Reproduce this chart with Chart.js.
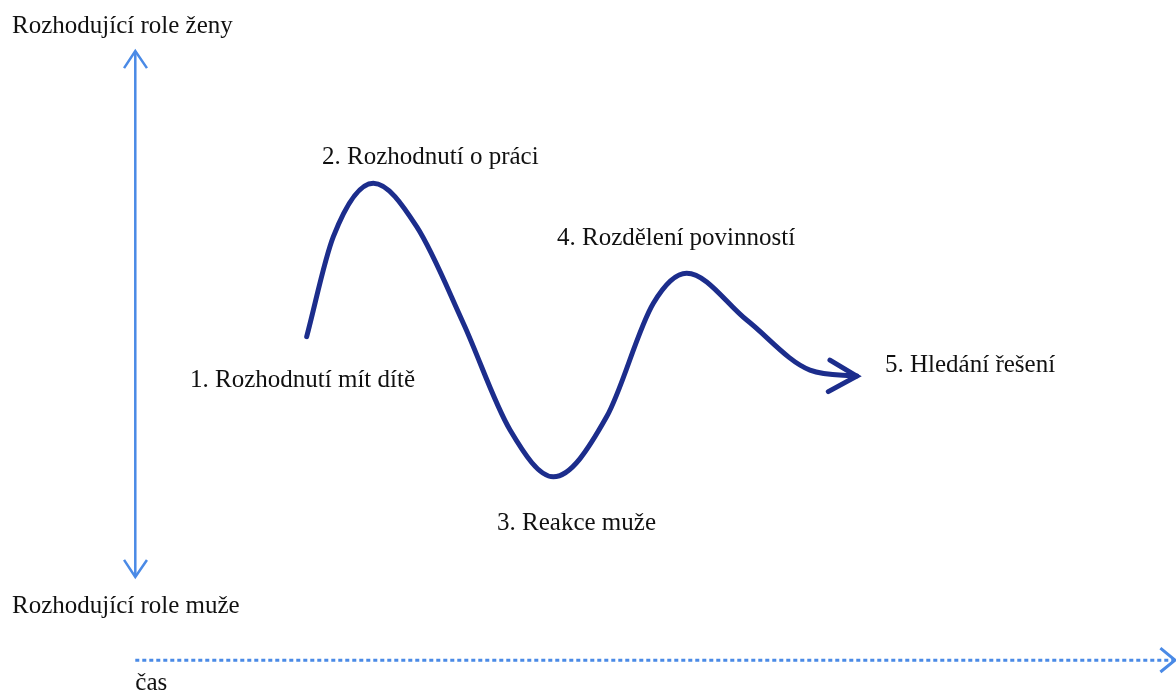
<!DOCTYPE html>
<html>
<head>
<meta charset="utf-8">
<script src="https://cdn.jsdelivr.net/npm/chart.js@4"></script>
<style>
  body { margin: 0; background: #fff; }
  #wrap { width: 1176px; height: 698px; }
</style>
</head>
<body>
<div id="wrap"><canvas id="myChart" width="1176" height="698"></canvas></div>
<script>
// osa x = čas, osa y = role (+1 žena rozhoduje, -1 muž rozhoduje)
const krivkaCas = [16.47, 19.03, 22.87, 27.04, 31.52, 36.01, 40.17, 45.30, 49.78, 52.98, 58.75, 64.83, 69.32];
const krivkaRole = [-0.086, 0.294, 0.497, 0.332, -0.035, -0.441, -0.619, -0.390, 0.041, 0.155, -0.023, -0.213, -0.236];

const popisky = ['1. Rozhodnutí mít dítě', '2. Rozhodnutí o práci', '3. Reakce muže',
  '4. Rozdělení povinností', '5. Hledání řešení'];
const popiskyCas = [5.26, 17.94, 34.76, 40.52, 72.04];
const popiskyRole = [-0.278, 0.570, -0.821, 0.262, -0.221];

const osaPopisky = ['Rozhodující role ženy', 'Rozhodující role muže', 'čas'];
const osaPopiskyCas = [-11.85, -11.85, 0];
const osaPopiskyRole = [1.068, -1.137, -1.43];

const modra = '#1c2d8c';
const svetla = '#4a8ae6';
const pismo = '25px "Liberation Serif", "DejaVu Serif", "Times New Roman", serif';

const body = (xs, ys) => xs.map((x, i) => ({ x: x, y: ys[i] }));

const popiskyPlugin = {
  id: 'popisky',
  afterDatasetsDraw(chart) {
    const ctx = chart.ctx;
    const sx = chart.scales.x, sy = chart.scales.y;
    ctx.save();
    ctx.font = pismo;
    ctx.fillStyle = '#111';
    ctx.textBaseline = 'alphabetic';
    popisky.forEach((t, i) => ctx.fillText(t, sx.getPixelForValue(popiskyCas[i]), sy.getPixelForValue(popiskyRole[i])));
    osaPopisky.forEach((t, i) => ctx.fillText(t, sx.getPixelForValue(osaPopiskyCas[i]), sy.getPixelForValue(osaPopiskyRole[i])));
    ctx.restore();
  }
};

const spolecne = { showLine: true, pointRadius: 0, fill: false };

function kresli() {
  new Chart(document.getElementById('myChart'), {
    type: 'scatter',
    data: {
      datasets: [
        // svislá šipka
        { ...spolecne, data: body([0, 0], [1, -1]), borderColor: svetla, borderWidth: 2.5 },
        { ...spolecne, data: body([-1.08, 0, 1.12], [0.935, 1, 0.935]), borderColor: svetla, borderWidth: 2.5 },
        { ...spolecne, data: body([-1.08, 0, 1.12], [-0.935, -1, -0.935]), borderColor: svetla, borderWidth: 2.5 },
        // osa času
        { ...spolecne, data: body([0, 99.9], [-1.316, -1.316]), borderColor: svetla, borderWidth: 3, borderDash: [4, 3] },
        { ...spolecne, data: body([98.5, 99.9, 98.5], [-1.27, -1.316, -1.361]), borderColor: svetla, borderWidth: 3 },
        // křivka
        { ...spolecne, data: body(krivkaCas, krivkaRole), borderColor: modra, borderWidth: 5,
          cubicInterpolationMode: 'monotone', borderCapStyle: 'round' },
        { ...spolecne, data: body([66.75, 69.32, 66.59], [-0.175, -0.236, -0.295]), borderColor: modra, borderWidth: 5,
          borderCapStyle: 'round', borderJoinStyle: 'miter' }
      ]
    },
    options: {
      responsive: false,
      animation: false,
      layout: { padding: 0 },
      plugins: { legend: { display: false }, tooltip: { enabled: false } },
      scales: {
        x: { type: 'linear', min: -13, max: 100, display: false },
        y: { type: 'linear', min: -1.46, max: 1.194, display: false }
      }
    },
    plugins: [popiskyPlugin]
  });
}

document.fonts.load(pismo).then(kresli, kresli);
</script>
</body>
</html>
